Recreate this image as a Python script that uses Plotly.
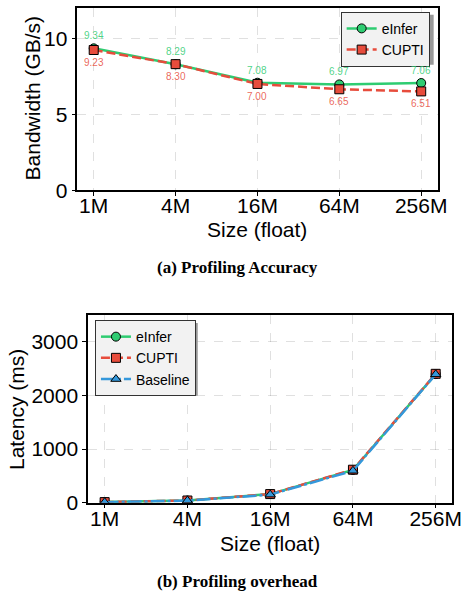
import plotly.graph_objects as go

# ---------------- data ----------------
sizes = ["1M", "4M", "16M", "64M", "256M"]
bw_einfer = [9.34, 8.29, 7.08, 6.97, 7.06]
bw_cupti = [9.23, 8.30, 7.00, 6.65, 6.51]
lat_einfer = [10, 40, 160, 610, 2400]
lat_cupti = [10, 40, 160, 615, 2405]
lat_baseline = [8, 38, 150, 595, 2395]
bw_ticks = [0, 5, 10]
lat_ticks = [0, 1000, 2000, 3000]

GREEN = "#2ecc71"
RED = "#e74c3c"
BLUE = "#3498db"
GREEN_TXT = "rgba(46,204,113,0.85)"
RED_TXT = "rgba(231,76,60,0.85)"
FONT = "Liberation Sans"
W, H = 474, 603

def px(x):
    return x / W

def py(y):
    return 1 - y / H

xs = list(range(len(sizes)))

fig = go.Figure()

# top chart
fig.add_trace(go.Scatter(x=xs, y=bw_einfer, name="eInfer", mode="lines+markers",
                         line=dict(color=GREEN, width=2.5),
                         marker=dict(symbol="circle", size=9, color=GREEN, line=dict(color="black", width=1)),
                         xaxis="x", yaxis="y", legend="legend"))
fig.add_trace(go.Scatter(x=xs, y=bw_cupti, name="CUPTI", mode="lines+markers",
                         line=dict(color=RED, width=2.5, dash="9px,4px"),
                         marker=dict(symbol="square", size=9, color=RED, line=dict(color="black", width=1)),
                         xaxis="x", yaxis="y", legend="legend"))

# bottom chart
fig.add_trace(go.Scatter(x=xs, y=lat_einfer, name="eInfer", mode="lines+markers",
                         line=dict(color=GREEN, width=2.5),
                         marker=dict(symbol="circle", size=9, color=GREEN, line=dict(color="black", width=1)),
                         xaxis="x2", yaxis="y2", legend="legend2"))
fig.add_trace(go.Scatter(x=xs, y=lat_cupti, name="CUPTI", mode="lines+markers",
                         line=dict(color=RED, width=2.5, dash="9px,4px"),
                         marker=dict(symbol="square", size=9, color=RED, line=dict(color="black", width=1)),
                         xaxis="x2", yaxis="y2", legend="legend2"))
fig.add_trace(go.Scatter(x=xs, y=lat_baseline, name="Baseline", mode="lines+markers",
                         line=dict(color=BLUE, width=2.5, dash="14px,3px,3px,3px"),
                         marker=dict(symbol="triangle-up", size=9, color=BLUE, line=dict(color="black", width=1)),
                         xaxis="x2", yaxis="y2", legend="legend2"))

annotations = []
for i, v in enumerate(bw_einfer):
    annotations.append(dict(x=i, y=v, xref="x", yref="y", text=f"{v:.2f}", showarrow=False,
                            xanchor="center", yanchor="middle",
                            yshift=12.5, font=dict(family=FONT, size=10, color=GREEN_TXT)))
for i, v in enumerate(bw_cupti):
    annotations.append(dict(x=i, y=v, xref="x", yref="y", text=f"{v:.2f}", showarrow=False,
                            xanchor="center", yanchor="middle",
                            yshift=-12.5, font=dict(family=FONT, size=10, color=RED_TXT)))

def label(text, x, y, size, family=FONT, angle=0):
    return dict(text=text, x=px(x), y=py(y), xref="paper", yref="paper", showarrow=False,
                xanchor="center", yanchor="middle", textangle=angle,
                font=dict(family=family, size=size, color="black"))

annotations += [
    label("Bandwidth (GB/s)", 33, 100, 21, angle=-90),
    label("Size (float)", 263, 234, 21),
    label("<b>(a) Profiling Accuracy</b>", 243, 272, 17, family="Liberation Serif"),
    label("Latency (ms)", 17, 417, 21, angle=-90),
    label("Size (float)", 276, 554, 21),
    label("<b>(b) Profiling overhead</b>", 243, 592, 17, family="Liberation Serif"),
]

axis_common = dict(showline=True, linecolor="black", linewidth=1.5, mirror=True,
                   ticks="outside", ticklen=4, tickwidth=1, tickcolor="black",
                   showgrid=True, gridcolor="rgba(0,0,0,0.12)", griddash="dash", gridwidth=1,
                   zeroline=False, tickfont=dict(family=FONT, size=21, color="black"))

legend_common = dict(xanchor="left", yanchor="top", bgcolor="#f2f2f2",
                     bordercolor="#333", borderwidth=1,
                     font=dict(family=FONT, size=14, color="black"), tracegroupgap=0)

fig.update_layout(
    width=W, height=H,
    margin=dict(l=0, r=0, t=0, b=0),
    plot_bgcolor="white", paper_bgcolor="white",
    showlegend=True,
    xaxis=dict(domain=[px(79), px(447)], range=[-0.2, 4.2], tickvals=xs, ticktext=sizes,
               anchor="y", ticklabelstandoff=-8, **axis_common),
    yaxis=dict(domain=[py(194), py(8)], range=[0, 12], tickvals=bw_ticks, anchor="x", **axis_common),
    xaxis2=dict(domain=[px(90), px(462)], range=[-0.2, 4.2], tickvals=xs, ticktext=sizes,
                anchor="y2", ticklabelstandoff=-8, **axis_common),
    yaxis2=dict(domain=[py(512), py(321)], range=[0, 3500], tickvals=lat_ticks, anchor="x2", **axis_common),
    legend=dict(x=px(348), y=py(12), **legend_common),
    legend2=dict(x=px(97), y=py(326), **legend_common),
    annotations=annotations,
    shapes=[
        dict(type="rect", xref="paper", yref="paper", x0=px(351), x1=px(443), y0=py(66), y1=py(15),
             fillcolor="#999", line=dict(width=0), layer="above"),
        dict(type="rect", xref="paper", yref="paper", x0=px(100), x1=px(202), y0=py(403), y1=py(329),
             fillcolor="#999", line=dict(width=0), layer="above"),
    ],
)

fig.write_html("out.html", config={"displayModeBar": False},
               post_script="document.body.style.margin='0';document.body.style.overflow='hidden';")
